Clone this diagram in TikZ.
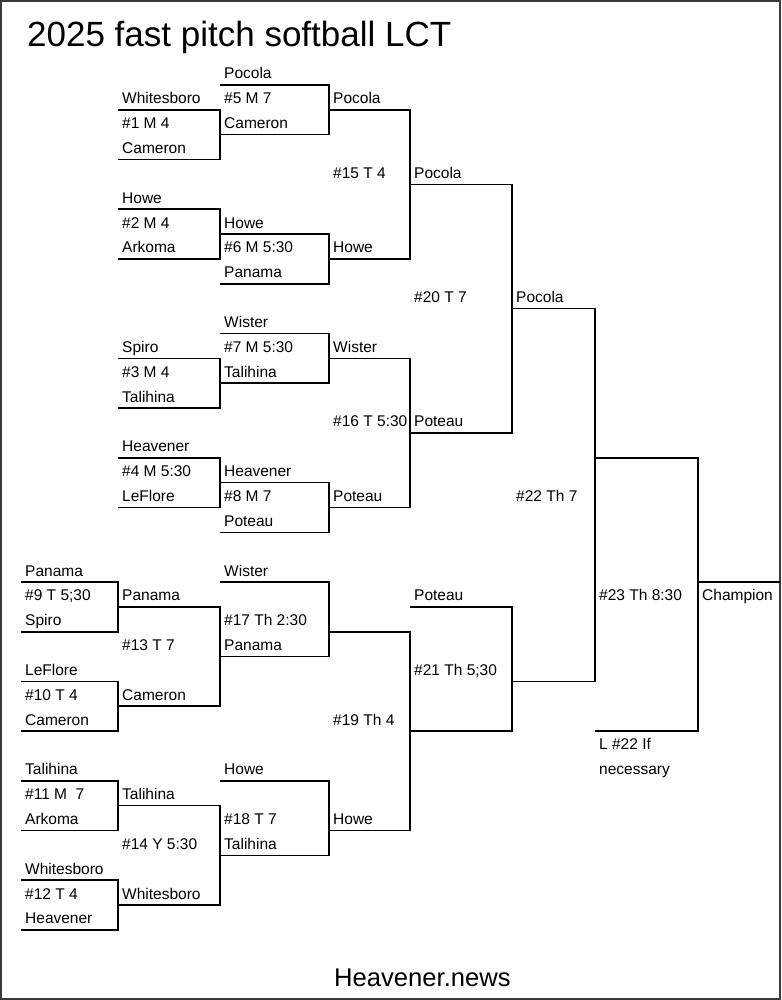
\documentclass[tikz,border=0pt]{standalone}
\usepackage{fontspec}
\setmainfont{Liberation Sans}
\usepackage{xcolor}
\definecolor{framegray}{HTML}{3A3A3A}

\begin{document}
\begin{tikzpicture}[
    team/.style={anchor=base west, inner sep=0pt, xshift=4pt, yshift=6pt,
                 font=\fontsize{15.5}{18}\selectfont},
    bracket/.style={draw=black, line width=1.6pt, line join=miter},
]
\useasboundingbox (0pt,0pt) rectangle (781pt,-1000pt);
\draw[framegray, line width=2pt] (1pt,-1pt) rectangle (780pt,-999pt);

% Title and footer
\node[anchor=base west, inner sep=0pt, font=\fontsize{35}{40}\selectfont]
    (title) at (27pt,-47pt) {2025 fast pitch softball LCT};
\node[anchor=base west, inner sep=0pt, font=\fontsize{25.6}{30}\selectfont]
    (footer) at (334pt,-986pt) {Heavener.news};

\begin{scope}[x=1pt, y=-24.85pt, yshift=-85pt]

% Upper half: games 1-8
\draw[bracket] (118,1)  -| (220,3)  -- (118,3);
\draw[bracket] (118,5)  -| (220,7)  -- (118,7);
\draw[bracket] (118,11) -| (220,13) -- (118,13);
\draw[bracket] (118,15) -| (220,17) -- (118,17);
\draw[bracket] (220,0)  -| (329,2)  -- (220,2);
\draw[bracket] (220,6)  -| (329,8)  -- (220,8);
\draw[bracket] (220,10) -| (329,12) -- (220,12);
\draw[bracket] (220,16) -| (329,18) -- (220,18);

% Games 15, 16, 20
\draw[bracket] (329,1)  -| (410,7)  -- (329,7);
\draw[bracket] (329,11) -| (410,17) -- (329,17);
\draw[bracket] (410,4)  -| (512,14) -- (410,14);

% Lower half: games 9-14, 17-19, 21
\draw[bracket] (21,20)  -| (118,22) -- (21,22);
\draw[bracket] (21,24)  -| (118,26) -- (21,26);
\draw[bracket] (21,28)  -| (118,30) -- (21,30);
\draw[bracket] (21,32)  -| (118,34) -- (21,34);
\draw[bracket] (118,21) -| (220,25) -- (118,25);
\draw[bracket] (118,29) -| (220,33) -- (118,33);
\draw[bracket] (220,20) -| (329,23) -- (220,23);
\draw[bracket] (220,28) -| (329,31) -- (220,31);
\draw[bracket] (329,22) -| (410,30) -- (329,30);
\draw[bracket] (410,21) -| (512,26) -- (410,26);

% Games 22, 23 and champion
\draw[bracket] (512,9)  -| (595,24) -- (512,24);
\draw[bracket] (595,15) -| (698,26) -- (595,26);
\draw[bracket] (698,20) -- (780,20);

% Column 1
\node[team] (g1a) at (118,1)  {Whitesboro};
\node[team] (g1n) at (118,2)  {\#1 M 4};
\node[team] (g1b) at (118,3)  {Cameron};
\node[team] (g2a) at (118,5)  {Howe};
\node[team] (g2n) at (118,6)  {\#2 M 4};
\node[team] (g2b) at (118,7)  {Arkoma};
\node[team] (g3a) at (118,11) {Spiro};
\node[team] (g3n) at (118,12) {\#3 M 4};
\node[team] (g3b) at (118,13) {Talihina};
\node[team] (g4a) at (118,15) {Heavener};
\node[team] (g4n) at (118,16) {\#4 M 5:30};
\node[team] (g4b) at (118,17) {LeFlore};

% Column 2
\node[team] (g5a) at (220,0)  {Pocola};
\node[team] (g5n) at (220,1)  {\#5 M 7};
\node[team] (g5b) at (220,2)  {Cameron};
\node[team] (g6a) at (220,6)  {Howe};
\node[team] (g6n) at (220,7)  {\#6 M 5:30};
\node[team] (g6b) at (220,8)  {Panama};
\node[team] (g7a) at (220,10) {Wister};
\node[team] (g7n) at (220,11) {\#7 M 5:30};
\node[team] (g7b) at (220,12) {Talihina};
\node[team] (g8a) at (220,16) {Heavener};
\node[team] (g8n) at (220,17) {\#8 M 7};
\node[team] (g8b) at (220,18) {Poteau};

% Column 3
\node[team] (g15a) at (329,1)  {Pocola};
\node[team] (g15n) at (329,4)  {\#15 T 4};
\node[team] (g15b) at (329,7)  {Howe};
\node[team] (g16a) at (329,11) {Wister};
\node[team] (g16n) at (329,14) {\#16 T 5:30};
\node[team] (g16b) at (329,17) {Poteau};

% Columns 4-7
\node[team] (g20a) at (410,4)  {Pocola};
\node[team] (g20n) at (410,9)  {\#20 T 7};
\node[team] (g20b) at (410,14) {Poteau};
\node[team] (g22a) at (512,9)  {Pocola};
\node[team] (g22n) at (512,17) {\#22 Th 7};
\node[team] (g23n) at (595,21) {\#23 Th 8:30};
\node[team] (g23b) at (595,27) {L \#22 If};
\node[team] (g23c) at (595,28) {necessary};
\node[team] (champ) at (698,21) {Champion};

% Lower column 0
\node[team] (g9a)  at (21,20) {Panama};
\node[team] (g9n)  at (21,21) {\#9 T 5;30};
\node[team] (g9b)  at (21,22) {Spiro};
\node[team] (g10a) at (21,24) {LeFlore};
\node[team] (g10n) at (21,25) {\#10 T 4};
\node[team] (g10b) at (21,26) {Cameron};
\node[team] (g11a) at (21,28) {Talihina};
\node[team] (g11n) at (21,29) {\#11 M~~7};
\node[team] (g11b) at (21,30) {Arkoma};
\node[team] (g12a) at (21,32) {Whitesboro};
\node[team] (g12n) at (21,33) {\#12 T 4};
\node[team] (g12b) at (21,34) {Heavener};

% Lower columns 1-4
\node[team] (g13a) at (118,21) {Panama};
\node[team] (g13n) at (118,23) {\#13 T 7};
\node[team] (g13b) at (118,25) {Cameron};
\node[team] (g14a) at (118,29) {Talihina};
\node[team] (g14n) at (118,31) {\#14 Y 5:30};
\node[team] (g14b) at (118,33) {Whitesboro};
\node[team] (g17a) at (220,20) {Wister};
\node[team] (g17n) at (220,22) {\#17 Th 2:30};
\node[team] (g17b) at (220,23) {Panama};
\node[team] (g18a) at (220,28) {Howe};
\node[team] (g18n) at (220,30) {\#18 T 7};
\node[team] (g18b) at (220,31) {Talihina};
\node[team] (g19n) at (329,26) {\#19 Th 4};
\node[team] (g19b) at (329,30) {Howe};
\node[team] (g21a) at (410,21) {Poteau};
\node[team] (g21n) at (410,24) {\#21 Th 5;30};

\end{scope}
\end{tikzpicture}
\end{document}
